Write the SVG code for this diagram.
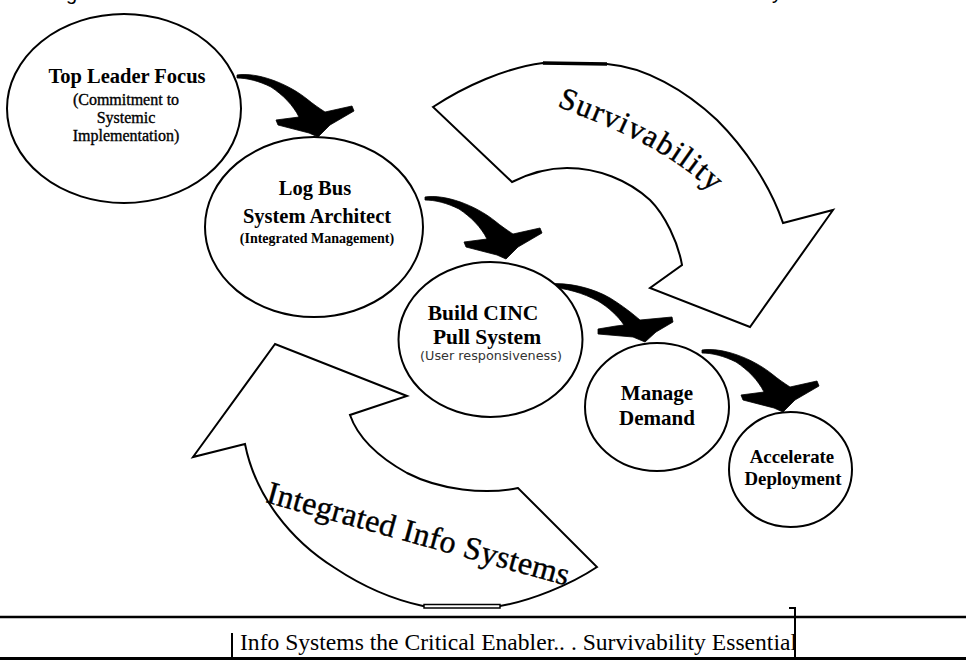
<svg xmlns="http://www.w3.org/2000/svg" width="966" height="660" viewBox="0 0 966 660">
<style>
.circ{fill:#fff;stroke:#000;stroke-width:2}
.big{fill:#fff;stroke:#000;stroke-width:2;stroke-linejoin:miter}
.sw{fill:#000;stroke:#000;stroke-width:0.8;stroke-linejoin:round}
.tb{font-family:"Liberation Serif","Times New Roman",serif;font-weight:bold;text-anchor:middle;fill:#000}
.tr{font-family:"Liberation Serif","Times New Roman",serif;text-anchor:middle;fill:#000}
.curv{font-family:"Liberation Serif","Times New Roman",serif;fill:#000;stroke:#000;stroke-width:0.4}
.frag{font-family:"Liberation Sans",Arial,sans-serif;font-size:20px;fill:#000}
</style>
<defs>
<path id="swoosh" d="M0,0 C20,-3 50,8 70,24 C76,29 82,33 88,37 L115,31 L117,36 L93,50 L81,62 L72,58 L41,50 L39,45 L62,42 C56,30 46,20 34,12 C22,6 10,3 0,3 Z"/>
<path id="survPath" d="M557,106 C600,124 665,145 716,196"/>
<path id="iisPath" d="M265,502 L582,590"/>
<clipPath id="boxClip"><rect x="0" y="618" width="794" height="42"/></clipPath>
</defs>

<rect width="966" height="660" fill="#fff"/>

<!-- clipped title fragments at the top edge -->
<text class="frag" x="66" y="0">g</text>
<text class="frag" x="772" y="-1">y</text>

<g id="survivability-arrow">
<path class="big" d="M433,107 C465,86 505,68 543,63 L607,64 C645,67 685,90 717,120 C745,148 770,185 783,223 L833,210 L750,327 L650,288 L682,265 C678,242 665,215 650,200 C628,180 598,168 567,168 C548,168 528,174 512,182 Z"/>
<path d="M543,63 L607,64" stroke="#000" stroke-width="3.5" fill="none"/>
<text class="curv" font-size="31" letter-spacing="1.4"><textPath href="#survPath">Survivability</textPath></text>
</g>

<g id="integrated-info-systems-arrow">
<path class="big" d="M275,344 L193,457 L245,444 C255,495 290,540 335,568 C365,588 395,600 423,606 L500,606 C530,601 570,585 597,567 L518,488 C485,495 440,490 407,473 C380,458 358,438 350,415 L407,396 Z"/>
<rect x="424" y="604.5" width="76" height="3.5" fill="#fff" stroke="#000" stroke-width="1.5"/>
<text class="curv" font-size="32" letter-spacing="0.3"><textPath href="#iisPath">Integrated Info Systems</textPath></text>
</g>

<g id="connectors">
<use href="#swoosh" class="sw" transform="translate(237,75)"/>
<use href="#swoosh" class="sw" transform="translate(425,197)"/>
<path class="sw" transform="translate(548,284)" d="M0,0 C20,-2 45,4 62,14 C75,22 85,30 92,36 L124,33 L125,38 L108,48 L97,58 L85,53 L50,50 L50,45 L68,42 L76,41 C70,32 60,23 50,17 C35,9 18,4 0,3 Z"/>
<use href="#swoosh" class="sw" transform="translate(702,350)"/>
</g>

<g id="top-leader-focus">
<ellipse class="circ" cx="124" cy="108.5" rx="117" ry="94.5"/>
<text class="tb" x="127" y="83" font-size="20.5">Top Leader Focus</text>
<text class="tr" x="126" y="105" font-size="16" stroke="#000" stroke-width="0.35">(Commitment to</text>
<text class="tr" x="126" y="123" font-size="16" stroke="#000" stroke-width="0.35">Systemic</text>
<text class="tr" x="126" y="141" font-size="16" stroke="#000" stroke-width="0.35">Implementation)</text>
</g>

<g id="log-bus-system-architect">
<ellipse class="circ" cx="314" cy="227" rx="109" ry="90"/>
<text class="tb" x="315" y="195" font-size="20.5">Log Bus</text>
<text class="tb" x="317" y="223" font-size="20.5">System Architect</text>
<text class="tb" x="317" y="243" font-size="14">(Integrated Management)</text>
</g>

<g id="build-cinc-pull-system">
<ellipse class="circ" cx="490.5" cy="339.5" rx="92" ry="77.5"/>
<text class="tb" x="483" y="320" font-size="21.5">Build CINC</text>
<text class="tb" x="487" y="344" font-size="21.5">Pull System</text>
<text x="491" y="360" font-size="12.8" text-anchor="middle" fill="#333" font-family="'DejaVu Sans',Verdana,sans-serif">(User responsiveness)</text>
</g>

<g id="manage-demand">
<ellipse class="circ" cx="657" cy="407" rx="72" ry="64"/>
<text class="tb" x="657" y="400" font-size="21">Manage</text>
<text class="tb" x="657" y="425" font-size="21">Demand</text>
</g>

<g id="accelerate-deployment">
<ellipse class="circ" cx="790.5" cy="469.5" rx="61.5" ry="57.5"/>
<text class="tb" x="792" y="463" font-size="18.8">Accelerate</text>
<text class="tb" x="793" y="485" font-size="18.8">Deployment</text>
</g>

<g id="caption-box">
<line x1="0" y1="617" x2="966" y2="617" stroke="#000" stroke-width="2.5"/>
<line x1="0" y1="658.5" x2="966" y2="658.5" stroke="#000" stroke-width="3"/>
<line x1="232" y1="633" x2="232" y2="658" stroke="#000" stroke-width="2"/>
<polyline points="789,608 795,608 795,658" fill="none" stroke="#000" stroke-width="2"/>
<text clip-path="url(#boxClip)" x="240" y="650" font-size="23.6" font-family="'Liberation Serif','Times New Roman',serif" fill="#000">Info Systems the Critical Enabler.. . Survivability Essential</text>
</g>
</svg>
